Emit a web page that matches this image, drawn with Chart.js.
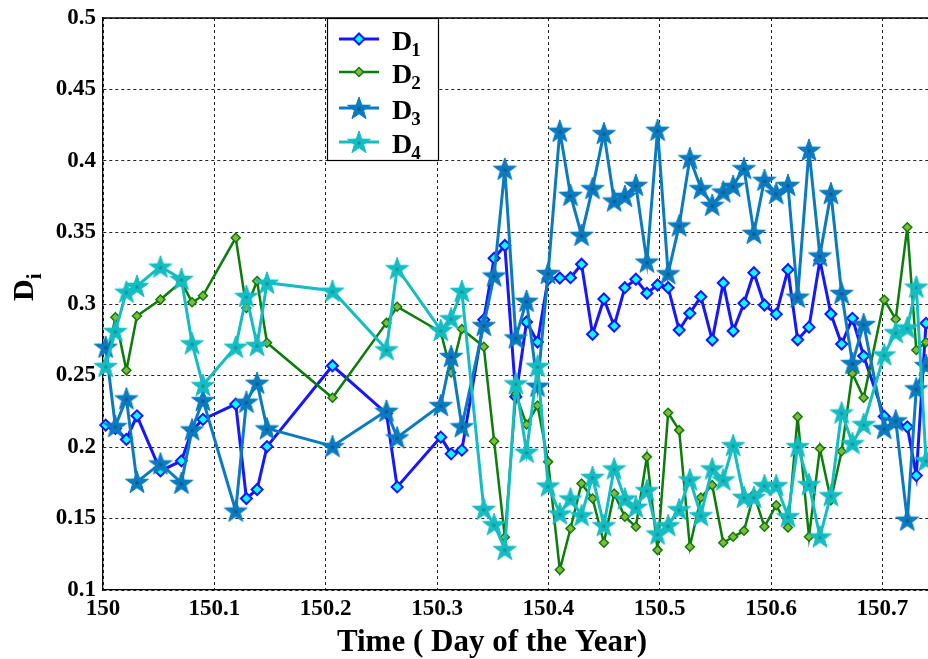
<!DOCTYPE html>
<html><head><meta charset="utf-8">
<script src="https://cdn.jsdelivr.net/npm/chart.js@4/dist/chart.umd.min.js"></script>
<style>html,body{margin:0;padding:0;background:#fff;}#wrap{width:928px;height:659px;position:relative;}</style>
</head><body><div id="wrap"><canvas id="c" width="928" height="659"></canvas></div>
<script>
// ---- data ----
const timeDays = [150.0024,150.0111,150.0210,150.0305,150.0516,150.0704,150.0800,150.0898,150.1192,150.1288,150.1384,150.1473,150.2061,150.2546,150.2642,150.3034,150.3127,150.3223,150.3420,150.3513,150.3609,150.3708,150.3804,150.3903,150.3998,150.4103,150.4199,150.4298,150.4397,150.4499,150.4591,150.4687,150.4786,150.4885,150.4981,150.5076,150.5175,150.5271,150.5370,150.5472,150.5571,150.5660,150.5757,150.5846,150.5941,150.6047,150.6152,150.6239,150.6341,150.6439,150.6538,150.6634,150.6731,150.6832,150.7017,150.7120,150.7224,150.7305,150.7392];
const d1 = [0.2153,0.2130,0.2053,0.2218,0.1833,0.1903,0.2118,0.2193,0.2300,0.1640,0.1703,0.2003,0.2568,0.2235,0.1721,0.2069,0.1952,0.1978,0.2890,0.3320,0.3409,0.2351,0.2874,0.2734,0.3175,0.3182,0.3184,0.3278,0.2788,0.3035,0.2846,0.3114,0.3173,0.3075,0.3133,0.3114,0.2818,0.2935,0.3051,0.2748,0.3147,0.2811,0.3005,0.3219,0.2993,0.2929,0.3240,0.2750,0.2838,0.3306,0.2930,0.2720,0.2900,0.2636,0.2214,0.2173,0.2141,0.1800,0.2865];
const d2 = [0.2570,0.2907,0.2536,0.2916,0.3031,0.3155,0.3012,0.3058,0.3463,0.2972,0.3161,0.2729,0.2344,0.2868,0.2981,0.2804,0.2521,0.2825,0.2701,0.2040,0.1369,0.2370,0.2157,0.2290,0.1896,0.1141,0.1430,0.1745,0.1640,0.1330,0.1675,0.1512,0.1442,0.1931,0.1279,0.2239,0.2118,0.1302,0.1647,0.1733,0.1330,0.1372,0.1414,0.1670,0.1442,0.1593,0.1437,0.2211,0.1372,0.1990,0.1628,0.1970,0.2515,0.2344,0.3030,0.2894,0.3537,0.2678,0.2733];
const d3 = [0.2701,0.2146,0.2340,0.1756,0.1885,0.1749,0.2123,0.2328,0.1555,0.2316,0.2449,0.2130,0.2006,0.2253,0.2067,0.2293,0.2636,0.2145,0.2853,0.3199,0.3945,0.2766,0.3022,0.2428,0.3217,0.4211,0.3763,0.3483,0.3810,0.4195,0.3723,0.3756,0.3833,0.3296,0.4218,0.3215,0.3549,0.4020,0.3810,0.3693,0.3786,0.3826,0.3950,0.3497,0.3868,0.3775,0.3833,0.3051,0.4078,0.3339,0.3775,0.3077,0.2587,0.2860,0.2132,0.2186,0.1491,0.2410,0.2573];
const d4 = [0.2566,0.2811,0.3086,0.3126,0.3261,0.3175,0.2725,0.2433,0.2701,0.3056,0.2713,0.3149,0.3093,0.2683,0.3250,0.2818,0.2900,0.3091,0.1567,0.1460,0.1286,0.2445,0.1966,0.2566,0.1730,0.1535,0.1640,0.1523,0.1791,0.1453,0.1850,0.1640,0.1582,0.1698,0.1395,0.1453,0.1565,0.1773,0.1523,0.1850,0.1773,0.2013,0.1651,0.1651,0.1733,0.1733,0.1516,0.2006,0.1740,0.1374,0.1663,0.2241,0.2027,0.2160,0.2647,0.2803,0.2836,0.3121,0.1908];
const seriesNames = ['D1','D2','D3','D4'];
const xTickLabels = ['150','150.1','150.2','150.3','150.4','150.5','150.6','150.7'];
const yTickLabels = ['0.1','0.15','0.2','0.25','0.3','0.35','0.4','0.45','0.5'];
const xTitle = 'Time ( Day of the Year)';
const yTitleMain = 'D';
const yTitleSub = 'i';

// ---- styles ----
const FONT = "'Liberation Serif','Times New Roman',serif";
const colors = ['#1616ff', '#0b7d0b', '#0a7bc0', '#14bdc3'];

function makeStar(fill, center, R, r) {
  const s = Math.ceil(2 * R + 4);
  const c = document.createElement('canvas');
  c.width = s; c.height = s;
  const g = c.getContext('2d');
  const cx = s / 2, cy = s / 2 + 1;
  g.beginPath();
  for (let k = 0; k < 10; k++) {
    const rad = (k % 2 === 0) ? R : r;
    const a = -Math.PI / 2 + k * Math.PI / 5;
    const px = cx + rad * Math.cos(a), py = cy + rad * Math.sin(a);
    if (k === 0) g.moveTo(px, py); else g.lineTo(px, py);
  }
  g.closePath();
  g.fillStyle = fill; g.fill();
  g.lineWidth = 1; g.strokeStyle = fill; g.stroke();
  g.fillStyle = center; g.fillRect(cx - 1.5, cy - 1.5, 3, 3);
  return c;
}
const star3 = makeStar('#0a7bc0', '#0b5a8c', 12, 4.8);
const star4 = makeStar('#14bdc3', '#0f9599', 12, 4.8);

const toXY = arr => timeDays.map((t, i) => ({ x: t, y: arr[i] }));

const datasets = [
  { label: seriesNames[0], data: toXY(d1), borderColor: colors[0], borderWidth: 3, pointStyle: 'rectRot', pointRadius: 5.5, pointBackgroundColor: '#00ffff', pointBorderColor: colors[0], pointBorderWidth: 2, order: 4 },
  { label: seriesNames[1], data: toXY(d2), borderColor: colors[1], borderWidth: 2.5, pointStyle: 'rectRot', pointRadius: 4.5, pointBackgroundColor: '#86b83a', pointBorderColor: colors[1], pointBorderWidth: 1.5, order: 3 },
  { label: seriesNames[2], data: toXY(d3), borderColor: colors[2], borderWidth: 3, pointStyle: star3, pointRadius: 12, order: 2 },
  { label: seriesNames[3], data: toXY(d4), borderColor: colors[3], borderWidth: 3, pointStyle: star4, pointRadius: 12, order: 1 }
];
datasets.forEach(d => { d.tension = 0; d.fill = false; d.clip = 14; });

const decor = {
  id: 'decor',
  afterDatasetsDraw(chart) {
    const ctx = chart.ctx, a = chart.chartArea;
    ctx.save();
    ctx.strokeStyle = '#000'; ctx.lineWidth = 1.3; ctx.setLineDash([]);
    ctx.beginPath(); ctx.moveTo(a.left, a.top); ctx.lineTo(a.right, a.top); ctx.stroke();
    const bx = 327, by = 18, bw = 111, bh = 142;
    ctx.fillStyle = '#fff'; ctx.fillRect(bx, by, bw, bh);
    ctx.strokeStyle = '#000'; ctx.lineWidth = 1.2; ctx.strokeRect(bx + 0.5, by + 0.5, bw, bh);
    const rows = [39, 72, 108, 142];
    datasets.forEach((ds, i) => {
      const y = rows[i];
      ctx.strokeStyle = ds.borderColor; ctx.lineWidth = ds.borderWidth;
      ctx.beginPath(); ctx.moveTo(339, y); ctx.lineTo(379, y); ctx.stroke();
      if (typeof ds.pointStyle === 'string') {
        const r = ds.pointRadius;
        ctx.beginPath(); ctx.moveTo(359, y - r); ctx.lineTo(359 + r, y); ctx.lineTo(359, y + r); ctx.lineTo(359 - r, y); ctx.closePath();
        ctx.fillStyle = ds.pointBackgroundColor; ctx.fill();
        ctx.lineWidth = ds.pointBorderWidth; ctx.strokeStyle = ds.pointBorderColor; ctx.stroke();
      } else {
        const img = ds.pointStyle;
        ctx.drawImage(img, 359 - img.width / 2, y - img.height / 2);
      }
      ctx.fillStyle = '#000'; ctx.textBaseline = 'alphabetic'; ctx.textAlign = 'left';
      ctx.font = 'bold 28px ' + FONT;
      const main = ds.label.charAt(0), sub = ds.label.slice(1);
      ctx.fillText(main, 392, y + 11);
      const w = ctx.measureText(main).width;
      ctx.font = 'bold 19px ' + FONT;
      ctx.fillText(sub, 392 + w - 1, y + 17);
    });
    ctx.fillStyle = '#000'; ctx.textAlign = 'center'; ctx.textBaseline = 'alphabetic';
    ctx.font = 'bold 31px ' + FONT;
    ctx.fillText(xTitle, 492, 651);
    ctx.translate(33, 301); ctx.rotate(-Math.PI / 2);
    ctx.textAlign = 'left';
    ctx.font = 'bold 30px ' + FONT;
    ctx.fillText(yTitleMain, 0, 0);
    const wm = ctx.measureText(yTitleMain).width;
    ctx.font = 'bold 21px ' + FONT;
    ctx.fillText(yTitleSub, wm, 8);
    ctx.restore();
  }
};

new Chart(document.getElementById('c'), {
  type: 'line',
  data: { datasets },
  options: {
    responsive: false, animation: false, devicePixelRatio: 1,
    layout: { autoPadding: false, padding: { top: 18, right: 0, left: 0, bottom: 0 } },
    plugins: { legend: { display: false }, tooltip: { enabled: false } },
    scales: {
      x: {
        type: 'linear', min: 150, max: 150.741,
        afterBuildTicks: s => { s.ticks = xTickLabels.map(t => ({ value: parseFloat(t) })); },
        afterFit: s => { s.height = 69; s.paddingRight = 0; s.paddingLeft = 0; },
        ticks: { callback: (v, i) => xTickLabels[i], font: { family: FONT, size: 23, weight: 'bold' }, color: '#000', padding: 5, maxRotation: 0, autoSkip: false },
        grid: { color: '#222', lineWidth: 1, drawTicks: false },
        border: { display: true, color: '#000', width: 1.3, dash: [3, 3] }
      },
      y: {
        type: 'linear', min: 0.1, max: 0.5,
        afterBuildTicks: s => { s.ticks = yTickLabels.map(t => ({ value: parseFloat(t) })); },
        afterFit: s => { s.width = 103; s.paddingTop = 0; s.paddingBottom = 0; },
        ticks: { callback: (v, i) => yTickLabels[i], font: { family: FONT, size: 23, weight: 'bold' }, color: '#000', padding: 7, autoSkip: false },
        grid: { color: '#222', lineWidth: 1, drawTicks: false },
        border: { display: true, color: '#000', width: 1.3, dash: [3, 3] }
      }
    }
  },
  plugins: [decor]
});
</script></body></html>
